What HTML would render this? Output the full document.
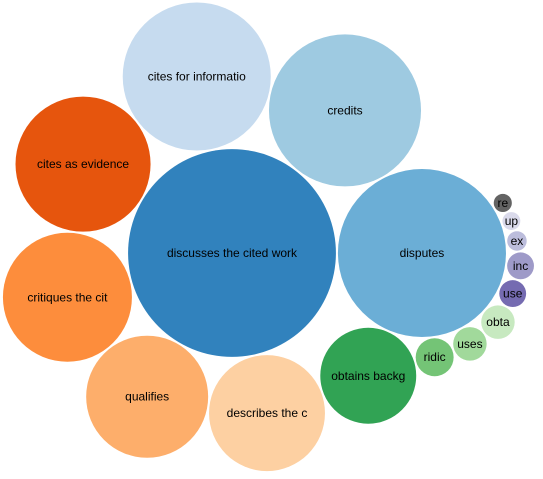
<!DOCTYPE html>
<html><head><meta charset="utf-8"><style>
html,body{margin:0;padding:0;background:#fff;}
svg{display:block;font-family:"Liberation Sans",Arial,sans-serif;}
text{font-size:12px;fill:#000;text-anchor:middle;}
</style></head><body>
<svg id="chart" width="543" height="479"></svg>
<script>
const labels = ["discusses the cited work","disputes","credits","cites for informatio","cites as evidence","critiques the cit","qualifies","describes the c","obtains backg","ridic","uses","obta","use","inc","ex","up","re"];
const values = [108,70.6,57.8,54.8,45.6,41.6,37.2,33.6,23,3.6,2.8,2.8,1.8,1.8,0.95,0.8,0.82];
const colors = ["#3182bd","#6baed6","#9ecae1","#c6dbef","#e6550d","#fd8d3c","#fdae6b","#fdd0a2","#31a354","#74c476","#a1d99b","#c7e9c0","#756bb1","#9e9ac8","#bcbddc","#dadaeb","#636363"];

const rScale = v => 10 * Math.sqrt(v);
const pad = 1;

function insert(a, b) { var c = a.next; a.next = b; b.prev = a; b.next = c; c.prev = b; }
function splice(a, b) { a.next = b; b.prev = a; }
function intersects(a, b) {
  var dx = b.x - a.x, dy = b.y - a.y, dr = a.r + b.r;
  return .999 * dr * dr > dx * dx + dy * dy;
}
function place(a, b, c) {
  var db = a.r + c.r, dx = b.x - a.x, dy = b.y - a.y;
  if (db && (dx || dy)) {
    var da = b.r + c.r, dc = dx*dx + dy*dy;
    da *= da; db *= db;
    var x = .5 + (db - da) / (2*dc),
        y = Math.sqrt(Math.max(0, 2*da*(db + dc) - (db -= dc)*db - da*da)) / (2*dc);
    c.x = a.x + x*dx + y*dy; c.y = a.y + x*dy - y*dx;
  } else { c.x = a.x + db; c.y = a.y; }
}
function packSiblings(nodes) {
  var n = nodes.length, a, b, c, i, j, k;
  nodes.forEach(d => { d.next = d.prev = d; });
  a = nodes[0]; a.x = -a.r; a.y = 0;
  if (n < 2) return;
  b = nodes[1]; b.x = b.r; b.y = 0;
  if (n < 3) return;
  c = nodes[2]; place(a, b, c);
  insert(a, c); a.prev = c; insert(c, b); b = a.next;
  for (i = 3; i < n; i++) {
    place(a, b, c = nodes[i]);
    var isect = 0, s1 = 1, s2 = 1;
    for (j = b.next; j !== b; j = j.next, s1++) {
      if (intersects(j, c)) { isect = 1; break; }
    }
    if (isect == 1) {
      for (k = a.prev; k !== j.prev; k = k.prev, s2++) {
        if (intersects(k, c)) break;
      }
    }
    if (isect) {
      if (s1 < s2 || (s1 == s2 && b.r < a.r)) splice(a, b = j);
      else splice(a = k, b);
      i--;
    } else {
      insert(a, c); b = c;
    }
  }
}

const nodes = values.map((v, i) => ({i: i, r: rScale(v) + pad}));
packSiblings(nodes);
const ox = 232 - nodes[0].x, oy = 253 - nodes[0].y;
const svg = document.getElementById('chart');
const NS = 'http://www.w3.org/2000/svg';
nodes.forEach(n => {
  const g = document.createElementNS(NS, 'g');
  
  
  const cx = n.x + ox, cy = n.y + oy, r = rScale(values[n.i]);
  const c = document.createElementNS(NS, 'circle');
  c.setAttribute('cx', cx); c.setAttribute('cy', cy); c.setAttribute('r', r);
  c.setAttribute('fill', colors[n.i]);
  
  
  const t = document.createElementNS(NS, 'text');
  t.setAttribute('x', cx); t.setAttribute('y', cy + 4);
  t.textContent = labels[n.i];
  
  
  g.appendChild(c); g.appendChild(t); svg.appendChild(g);
});
</script>
</body></html>
